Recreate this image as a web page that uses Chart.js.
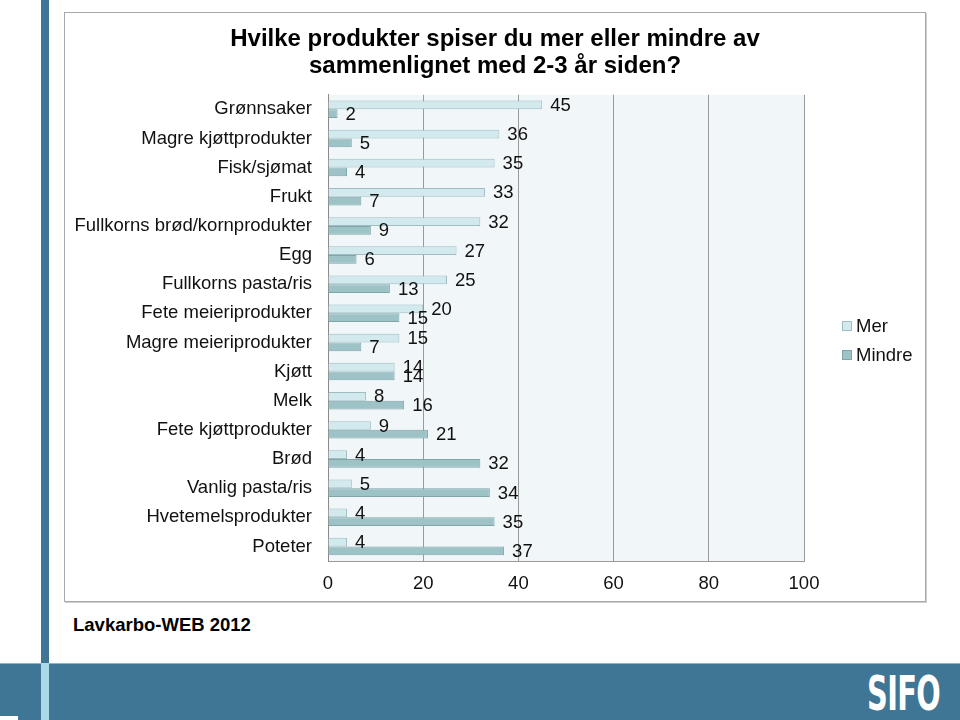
<!DOCTYPE html>
<html>
<head>
<meta charset="utf-8">
<script src="https://cdn.jsdelivr.net/npm/chart.js@4.4.0/dist/chart.umd.min.js"></script>
<style>
    body { margin: 0; background: #fff; }
    #page { position: relative; width: 960px; height: 720px; overflow: hidden; font-family: "Liberation Sans", Arial, sans-serif; }
    #panel { position: absolute; left: 64px; top: 12px; width: 860px; height: 588px; border: 1px solid #a8a8a8; box-shadow: 1px 1px 0 #cfcfcf; }
    #sideBar { position: absolute; left: 41px; top: 0; width: 8px; height: 663px; background: #3e7495; }
    #band { position: absolute; left: 0; top: 663px; width: 960px; height: 57px; background: #3f7595; border-top: 1px solid #8fb3c6; box-sizing: border-box; }
    #bandStrip { position: absolute; left: 41px; top: 663px; width: 8px; height: 57px; background: #a9dce6; }
    #corner { position: absolute; left: 0; top: 716px; width: 18px; height: 4px; background: #fff; }
    #source { position: absolute; left: 73px; top: 614px; font-size: 18.5px; font-weight: bold; color: #000; }
    #logo { position: absolute; left: 867px; top: 665px; font-family: "DejaVu Sans", sans-serif; font-weight: bold; font-size: 48px; color: #fff; transform: scaleX(0.6); transform-origin: left top; letter-spacing: -1px; }
    #myChart { position: absolute; left: 0; top: 0; }
</style>
</head>
<body>
<div id="page">
    <div id="panel"></div>
    <div id="sideBar"></div>
    <div id="band"></div>
    <div id="bandStrip"></div>
    <div id="corner"></div>
    <div id="source">Lavkarbo-WEB 2012</div>
    <div id="logo">SIFO</div>
    <canvas id="myChart" width="960" height="720"></canvas>
</div>
<script>
const titleLines = ['Hvilke produkter spiser du mer eller mindre av', 'sammenlignet med 2-3 år siden?'];
const categories = [
    'Grønnsaker',
    'Magre kjøttprodukter',
    'Fisk/sjømat',
    'Frukt',
    'Fullkorns brød/kornprodukter',
    'Egg',
    'Fullkorns pasta/ris',
    'Fete meieriprodukter',
    'Magre meieriprodukter',
    'Kjøtt',
    'Melk',
    'Fete kjøttprodukter',
    'Brød',
    'Vanlig pasta/ris',
    'Hvetemelsprodukter',
    'Poteter'
];
const merValues = [45, 36, 35, 33, 32, 27, 25, 20, 15, 14, 8, 9, 4, 5, 4, 4];
const mindreValues = [2, 5, 4, 7, 9, 6, 13, 15, 7, 14, 16, 21, 32, 34, 35, 37];
const xTicks = [0, 20, 40, 60, 80, 100];

const fontFamily = '"Liberation Sans", Arial, sans-serif';

const plotBackground = {
    id: 'plotBackground',
    beforeDraw(chart) {
        const { ctx, chartArea } = chart;
        ctx.save();
        ctx.fillStyle = '#f1f6f9';
        ctx.fillRect(chartArea.left, chartArea.top, chartArea.right - chartArea.left, chartArea.bottom - chartArea.top);
        ctx.restore();
    }
};

const valueLabels = {
    id: 'valueLabels',
    afterDatasetsDraw(chart) {
        const ctx = chart.ctx;
        ctx.save();
        ctx.font = `18.5px ${fontFamily}`;
        ctx.fillStyle = '#111';
        ctx.textAlign = 'left';
        ctx.textBaseline = 'middle';
        chart.data.datasets.forEach((ds, i) => {
            chart.getDatasetMeta(i).data.forEach((bar, j) => {
                ctx.fillText(ds.data[j], bar.x + 8, bar.y + 1);
            });
        });
        ctx.restore();
    }
};

const sideLegend = {
    id: 'sideLegend',
    afterDraw(chart) {
        const ctx = chart.ctx;
        const x = chart.chartArea.right + 38;
        let y = 326;
        ctx.save();
        ctx.font = `18.5px ${fontFamily}`;
        ctx.textBaseline = 'middle';
        ctx.textAlign = 'left';
        chart.data.datasets.forEach((ds) => {
            ctx.fillStyle = ds.backgroundColor;
            ctx.fillRect(x, y - 5, 10, 10);
            ctx.strokeStyle = ds.borderColor;
            ctx.lineWidth = 1;
            ctx.strokeRect(x + 0.5, y - 4.5, 9, 9);
            ctx.fillStyle = '#111';
            ctx.fillText(ds.label, x + 14, y + 1);
            y += 29;
        });
        ctx.restore();
    }
};

const ctx = document.getElementById('myChart').getContext('2d');

const chart = new Chart(ctx, {
    type: 'bar',
    data: {
        labels: categories,
        datasets: [
            {
                label: 'Mer',
                data: merValues,
                backgroundColor: '#d2eaee',
                borderColor: '#9fbdc2',
                borderWidth: 1,
                categoryPercentage: 0.6,
                barPercentage: 1
            },
            {
                label: 'Mindre',
                data: mindreValues,
                backgroundColor: '#9ec3c7',
                borderColor: '#7fa4aa',
                borderWidth: 1,
                categoryPercentage: 0.6,
                barPercentage: 1
            }
        ]
    },
    options: {
        indexAxis: 'y',
        responsive: false,
        animation: false,
        devicePixelRatio: 1,
        layout: {
            padding: { left: 64, right: 34, top: 12, bottom: 118 }
        },
        scales: {
            x: {
                min: 0,
                max: 100,
                afterBuildTicks: (scale) => {
                    scale.ticks = xTicks.map(v => ({ value: v }));
                },
                afterFit: (scale) => {
                    scale.height = 41;
                },
                grid: {
                    color: '#9a9a9a',
                    drawTicks: false
                },
                border: {
                    color: '#9a9a9a'
                },
                ticks: {
                    padding: 12,
                    color: '#111',
                    font: { family: fontFamily, size: 18.5 }
                }
            },
            y: {
                afterFit: (scale) => {
                    scale.width = 264;
                },
                grid: {
                    display: false,
                    drawTicks: false
                },
                border: {
                    color: '#8a8a8a'
                },
                ticks: {
                    padding: 16,
                    color: '#111',
                    font: { family: fontFamily, size: 18.5 }
                }
            },
            legendSpace: {
                type: 'linear',
                position: 'right',
                afterFit: (scale) => {
                    scale.width = 122;
                },
                grid: { display: false, drawTicks: false },
                border: { display: false },
                ticks: { display: false }
            }
        },
        plugins: {
            legend: {
                display: false
            },
            tooltip: {
                enabled: false
            },
            title: {
                display: true,
                text: titleLines,
                color: '#000',
                font: { family: fontFamily, size: 24, weight: 'bold', lineHeight: 1.12 },
                padding: { top: 14, bottom: 15 }
            }
        }
    },
    plugins: [plotBackground, valueLabels, sideLegend]
});
</script>
</body>
</html>
